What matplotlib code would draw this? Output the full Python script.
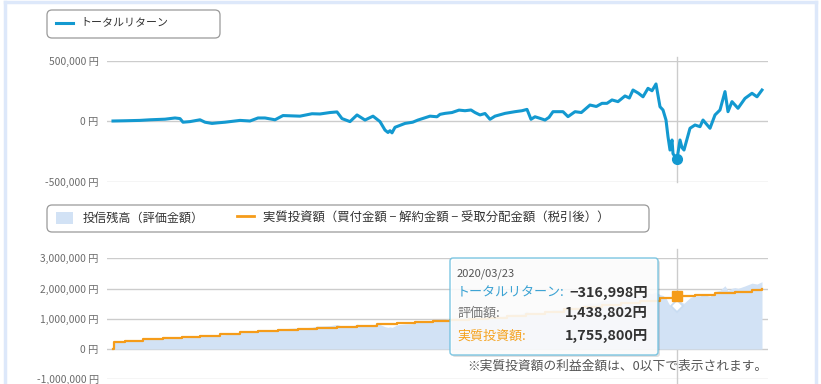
import matplotlib
matplotlib.use("Agg")
import matplotlib.pyplot as plt
import pandas as pd
from matplotlib.patches import FancyBboxPatch, Rectangle
from matplotlib.lines import Line2D
from matplotlib.transforms import IdentityTransform

plt.rcParams['font.family'] = ['Noto Sans CJK JP', 'DejaVu Sans']

# ---------------- data ----------------
ret_dates = [
    "2015-08-05", "2015-09-10", "2015-10-25", "2015-11-24", "2016-01-08", "2016-02-07",
    "2016-02-22", "2016-03-02", "2016-03-23", "2016-04-22", "2016-05-07", "2016-05-28",
    "2016-06-15", "2016-07-06", "2016-08-20", "2016-09-19", "2016-10-13", "2016-11-03",
    "2016-12-03", "2016-12-27", "2017-02-16", "2017-03-24", "2017-04-17", "2017-05-17",
    "2017-06-07", "2017-06-22", "2017-07-16", "2017-08-06", "2017-08-30", "2017-09-23",
    "2017-10-14", "2017-10-29", "2017-11-07", "2017-11-13", "2017-11-19", "2017-11-28",
    "2017-12-28", "2018-01-20", "2018-02-05", "2018-03-13", "2018-04-03", "2018-04-12",
    "2018-04-27", "2018-05-18", "2018-06-08", "2018-06-26", "2018-07-14", "2018-07-26",
    "2018-08-10", "2018-08-25", "2018-09-09", "2018-09-24", "2018-10-24", "2018-11-23",
    "2018-12-14", "2018-12-29", "2019-01-10", "2019-01-22", "2019-02-06", "2019-02-21",
    "2019-03-05", "2019-03-17", "2019-04-16", "2019-05-01", "2019-05-22", "2019-06-10",
    "2019-07-06", "2019-07-25", "2019-08-11", "2019-08-26", "2019-09-10", "2019-09-28",
    "2019-10-19", "2019-11-01", "2019-11-12", "2019-11-28", "2019-12-12", "2019-12-27",
    "2020-01-08", "2020-01-20", "2020-02-01", "2020-02-10", "2020-02-19", "2020-02-25",
    "2020-03-02", "2020-03-08", "2020-03-11", "2020-03-17", "2020-03-23", "2020-04-01",
    "2020-04-07", "2020-04-13", "2020-05-01", "2020-05-16", "2020-05-31", "2020-06-09",
    "2020-06-30", "2020-07-15", "2020-07-30", "2020-08-14", "2020-08-23", "2020-09-04",
    "2020-09-22", "2020-10-13", "2020-11-03", "2020-11-18", "2020-12-03",
]
ret_values = [
    0, 2000, 5000, 10000, 15000, 25000,
    20000, -10000, -5000, 10000, -10000, -20000,
    -15000, -10000, 5000, 0, 25000, 25000,
    10000, 45000, 40000, 60000, 58000, 70000,
    75000, 20000, -5000, 50000, 8000, 40000,
    -5000, -75000, -95000, -80000, -98000, -52000,
    -20000, -10000, 8000, 40000, 35000, 55000,
    63000, 70000, 90000, 85000, 91000, 70000,
    50000, 62000, 14000, 40000, 63000, 77000,
    85000, 96000, 14000, 35000, 22000, 8000,
    30000, 77000, 77000, 36000, 77000, 70000,
    132000, 120000, 146000, 146000, 174000, 160000,
    207000, 190000, 256000, 230000, 200000, 270000,
    250000, 306000, 118000, 91000, 8000, -130000,
    -240000, -157000, -270000, -295000, -316998, -157000,
    -220000, -240000, -60000, -33000, -47000, 8000,
    -60000, 50000, 91000, 243000, 77000, 160000,
    105000, 187000, 229000, 200000, 256000,
]

inv_dates = [
    "2015-08-05", "2015-08-08", "2015-09-10", "2015-11-03", "2016-01-02", "2016-02-28",
    "2016-04-22", "2016-06-21", "2016-08-20", "2016-10-13", "2016-12-12", "2017-02-10",
    "2017-04-08", "2017-06-07", "2017-08-06", "2017-10-05", "2017-12-04", "2018-01-27",
    "2018-03-22", "2018-05-12", "2018-07-08", "2018-09-03", "2018-10-30", "2018-12-26",
    "2019-02-21", "2019-04-19", "2019-06-15", "2019-08-11", "2019-10-07", "2019-12-03",
    "2020-02-01", "2020-03-14", "2020-05-16", "2020-07-15", "2020-09-13", "2020-11-03",
    "2020-12-03",
]
inv_values = [
    0, 242000, 275000, 319000, 352000, 385000,
    440000, 484000, 550000, 594000, 627000, 660000,
    704000, 737000, 770000, 814000, 847000, 880000,
    913000, 946000, 990000, 1030000, 1080000, 1150000,
    1230000, 1310000, 1390000, 1460000, 1530000, 1580000,
    1680000, 1755800, 1800000, 1850000, 1900000, 1950000,
    1970000,
]

tooltip_date = "2020-03-23"
tooltip_label = "2020/03/23"
tooltip_return = -316998
tooltip_value = 1438802
tooltip_invest = 1755800

top_ticks = [-500000, 0, 500000]
bottom_ticks = [-1000000, 0, 1000000, 2000000, 3000000]

legend_top = "トータルリターン"
legend_fill = "投信残高（評価金額）"
legend_inv = "実質投資額（買付金額 − 解約金額 − 受取分配金額（税引後））"
note_text = "※実質投資額の利益金額は、0以下で表示されます。"

# ---------------- derived series ----------------
ret = pd.Series(ret_values, index=pd.to_datetime(ret_dates), dtype=float)
inv = pd.Series(inv_values, index=pd.to_datetime(inv_dates), dtype=float)
idx = ret.index.union(inv.index)
ret_u = ret.reindex(idx).interpolate(method="time")
inv_u = inv.reindex(idx).ffill()
val_u = inv_u + ret_u

# ---------------- style ----------------
W, H = 821, 384
BLUE = "#1399d0"
ORANGE = "#f59c1a"
FILL = "#d2e2f5"
GRID = "#cccccc"
TICKC = "#6b6b6b"

fig = plt.figure(figsize=(W / 100, H / 100), dpi=100)
fig.patch.set_facecolor("white")


def fx(px):
    return px / W


def fy(py):
    return 1 - py / H


def axes_px(x0, y0, x1, y1):
    return fig.add_axes([fx(x0), fy(y1), fx(x1) - fx(x0), (y1 - y0) / H])


xmin, xmax = pd.Timestamp("2015-07-18"), pd.Timestamp("2020-12-21")


def style_axes(ax, ticks):
    for s in ax.spines.values():
        s.set_visible(False)
    ax.set_xlim(xmin, xmax)
    ax.set_xticks([])
    ax.set_yticks(ticks)
    ax.set_yticklabels([f"{t:,} 円" for t in ticks], color=TICKC, fontsize=7.4)
    ax.tick_params(axis="y", length=0, pad=6)
    for t in ticks:
        ax.axhline(t, color=GRID, lw=1, zorder=0)
    ax.set_facecolor("none")


# top chart
ax1 = axes_px(107, 60.5, 768, 181.5)
ax1.set_ylim(-500000, 500000)
style_axes(ax1, top_ticks)
ax1.plot(ret.index, ret.values, color=BLUE, lw=2.2, zorder=3, solid_joinstyle="round")
td = pd.Timestamp(tooltip_date)
ax1.plot([td], [tooltip_return], "o", ms=7, color=BLUE, zorder=4)

# bottom chart
ax2 = axes_px(107, 258.3, 768, 379.3)
ax2.set_ylim(-1000000, 3000000)
style_axes(ax2, bottom_ticks)
ax2.fill_between(val_u.index, 0, val_u.values, color=FILL, lw=0, zorder=1)
ax2.plot(inv.index, inv.values, color=ORANGE, lw=1.6, drawstyle="steps-post", zorder=3)
ax2.plot([td], [tooltip_value], "D", ms=6, mfc="white", mec="#c8dcf2", mew=1.2, zorder=4)
ax2.plot([td], [tooltip_invest], "s", ms=7, color=ORANGE, zorder=5)

# cursor vertical lines
xpx = 107 + (td - xmin) / (xmax - xmin) * (768 - 107)
fig.add_artist(Line2D([fx(xpx)] * 2, [fy(57), fy(182)], color=GRID, lw=1, zorder=0))
fig.add_artist(Line2D([fx(xpx)] * 2, [fy(249), fy(384)], color=GRID, lw=1, zorder=0))

# outer panel border
border = "#dde8fa"
fig.add_artist(Line2D([fx(5)] * 2, [0, fy(2)], color=border, lw=2.5))
fig.add_artist(Line2D([fx(816)] * 2, [0, fy(2)], color=border, lw=2.5))
fig.add_artist(Line2D([fx(5), fx(816)], [fy(2)] * 2, color=border, lw=2.5))

ID = IdentityTransform()


def rbox(x0, y0, x1, y1, ec, fc="white", lw=1.0, r=5, alpha=1.0, z=5):
    p = FancyBboxPatch((x0, H - y1), x1 - x0, y1 - y0,
                       boxstyle=f"round,pad=0,rounding_size={r}",
                       transform=ID, ec=ec, fc=fc, lw=lw, alpha=alpha, zorder=z)
    fig.add_artist(p)
    return p


def T(px, py, s, **kw):
    kw.setdefault("va", "center")
    fig.text(fx(px), fy(py), s, **kw)


# top legend
rbox(47, 10, 220, 38, ec="#9a9a9a", lw=0.9)
fig.add_artist(Line2D([fx(56), fx(73)], [fy(22.7)] * 2, color=BLUE, lw=2.2, zorder=6))
T(80, 22.5, legend_top, fontsize=7.9, color="#333333", zorder=6)

# bottom legend
rbox(47, 205, 649, 232, ec="#9a9a9a", lw=0.9)
fig.add_artist(Rectangle((fx(56), fy(224)), fx(73) - fx(56), (224 - 212) / H,
                         transform=fig.transFigure, fc=FILL, ec="none", zorder=6))
T(83, 218.5, legend_fill, fontsize=8.7, color="#333333", zorder=6)
fig.add_artist(Line2D([fx(237), fx(254)], [fy(216)] * 2, color=ORANGE, lw=2.0, zorder=6))
T(263, 218.5, legend_inv, fontsize=8.9, color="#333333", zorder=6)

# tooltip
rbox(452, 260, 660, 357, ec="none", fc="#000000", alpha=0.12, r=3, z=7)
rbox(450, 258, 658, 355, ec="#6bbfdf", fc="white", lw=1.0, r=3, alpha=0.88, z=8)
T(457, 273.5, tooltip_label, fontsize=8.0, color="#555555", zorder=9)
T(457, 293, "トータルリターン:", fontsize=9.4, color="#3aa2d3", zorder=9)
T(457, 313, "評価額:", fontsize=9.4, color="#777777", zorder=9)
T(457, 336, "実質投資額:", fontsize=9.4, color="#f5a21e", zorder=9)
T(648, 293, f"−{abs(tooltip_return):,}円", fontsize=10.4, color="#333333",
  fontweight="bold", ha="right", zorder=9)
T(648, 313, f"{tooltip_value:,}円", fontsize=10.4, color="#333333",
  fontweight="bold", ha="right", zorder=9)
T(648, 336, f"{tooltip_invest:,}円", fontsize=10.4, color="#333333",
  fontweight="bold", ha="right", zorder=9)

# note
T(467, 366, note_text, fontsize=9.2, color="#555555", zorder=9)

fig.savefig("out.png", dpi=100, facecolor="white")
